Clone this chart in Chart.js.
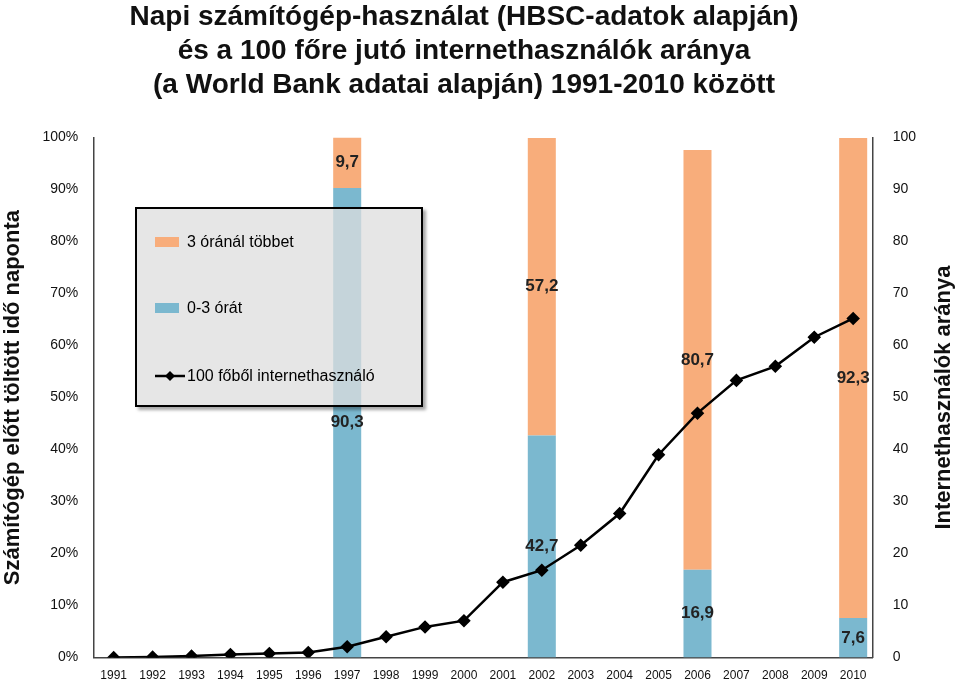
<!DOCTYPE html>
<html><head><meta charset="utf-8">
<script src="https://cdn.jsdelivr.net/npm/chart.js@4"></script>
<style>
body{margin:0;background:#fff;font-family:"Liberation Sans",Arial,sans-serif}
#wrap{position:relative;width:960px;height:684px;overflow:hidden}
#legend{position:absolute;left:135px;top:207px;width:284px;height:196px;border:2px solid #000;background:rgba(222,222,222,0.75);box-shadow:3px 3px 3px rgba(0,0,0,0.35);font-size:16px}
.it{position:absolute;left:18px;display:flex;align-items:center}
.sw{width:24px;height:10px;margin-right:8px}
</style></head><body>
<div id="wrap"><canvas id="c" width="960" height="690"></canvas>
<div id="legend">
 <div class="it" style="top:24px"><span class="sw" style="background:#f8ad7b"></span>3 óránál többet</div>
 <div class="it" style="top:90px"><span class="sw" style="background:#7bb8cf"></span>0-3 órát</div>
 <div class="it" style="top:158px"><svg width="30" height="12" style="margin-right:2px"><line x1="0" y1="6" x2="30" y2="6" stroke="#000" stroke-width="2.5"/><polygon points="15,1 20,6 15,11 10,6" fill="#000"/></svg>100 főből internethasználó</div>
</div></div>
<script>
const years = ["1991","1992","1993","1994","1995","1996","1997","1998","1999","2000","2001","2002","2003","2004","2005","2006","2007","2008","2009","2010"]
const upTo3h = [null,null,null,null,null,null,90.3,null,null,null,null,42.7,null,null,null,16.9,null,null,null,7.6]
const over3h = [null,null,null,null,null,null,9.7,null,null,null,null,57.2,null,null,null,80.7,null,null,null,92.3]
const internetUsers = [0,0.1,0.3,0.6,0.8,1,2.1,4,5.9,7.1,14.5,16.8,21.6,27.7,39,47,53.3,56,61.6,65.2]
const rightTitle = "Internethasználók aránya"

// values centred on each bar segment
const barLabels = {
  id: "barLabels",
  afterDatasetsDraw(chart) {
    const ctx = chart.ctx
    ctx.save()
    ctx.font = "bold 17px 'Liberation Sans', Arial"
    ctx.fillStyle = "#222"
    ctx.textAlign = "center"
    ctx.textBaseline = "middle"
    ;[0, 1].forEach(di => {
      chart.getDatasetMeta(di).data.forEach((bar, i) => {
        const v = chart.data.datasets[di].data[i]
        if (v == null) return
        const { y, base } = bar.getProps(["y", "base"], true)
        ctx.fillText(String(v).replace(".", ","), bar.x, (y + base) / 2)
      })
    })
    // right axis title, reading bottom to top
    const a = chart.chartArea
    ctx.translate(944, (a.top + a.bottom) / 2)
    ctx.rotate(-Math.PI / 2)
    ctx.font = "bold 22px 'Liberation Sans', Arial"
    ctx.fillStyle = "#111"
    ctx.fillText(rightTitle, 0, 0)
    ctx.restore()
  }
}

new Chart(document.getElementById("c"), {
  data: {
    labels: years,
    datasets: [
      { type: "bar", data: upTo3h, backgroundColor: "#7bb8cf", yAxisID: "y", stack: "s", order: 2 },
      { type: "bar", data: over3h, backgroundColor: "#f8ad7b", yAxisID: "y", stack: "s", order: 2 },
      { type: "line", data: internetUsers, yAxisID: "y1", borderColor: "#000", borderWidth: 2.5,
        pointStyle: "rectRot", pointRadius: 5, pointBackgroundColor: "#000", order: 1 }
    ]
  },
  options: {
    responsive: false,
    animation: false,
    layout: { padding: { left: 0, right: 32, top: 0, bottom: 4 } },
    plugins: {
      legend: { display: false },
      tooltip: { enabled: false },
      title: {
        display: true,
        text: ["Napi számítógép-használat (HBSC-adatok alapján)", "és a 100 főre jutó internethasználók aránya", "(a World Bank adatai alapján) 1991-2010 között"],
        font: { size: 28, weight: "bold", family: "'Liberation Sans', Arial", lineHeight: 1.22 },
        color: "#111",
        padding: { top: 0, bottom: 35 }
      }
    },
    scales: {
      x: {
        stacked: true,
        grid: { display: false },
        border: { color: "#444", width: 1.5 },
        ticks: { color: "#111", font: { size: 12, family: "'Liberation Sans', Arial" }, maxRotation: 0, autoSkip: false },
        barPercentage: 0.86,
        categoryPercentage: 1
      },
      y: {
        stacked: true, min: 0, max: 100,
        grid: { display: false },
        border: { color: "#444", width: 1.5 },
        ticks: { stepSize: 10, color: "#111", padding: 8, font: { size: 14, family: "'Liberation Sans', Arial" }, callback: v => v + "%" },
        title: { display: true, text: "Számítógép előtt töltött idő naponta", color: "#111", font: { size: 22, weight: "bold", family: "'Liberation Sans', Arial" }, padding: { top: 0, bottom: 8 } }
      },
      y1: {
        position: "right", min: 0, max: 100,
        grid: { display: false },
        border: { color: "#444", width: 1.5 },
        ticks: { stepSize: 10, color: "#111", padding: 12, font: { size: 14, family: "'Liberation Sans', Arial" } }
      }
    }
  },
  plugins: [barLabels]
})
</script></body></html>
